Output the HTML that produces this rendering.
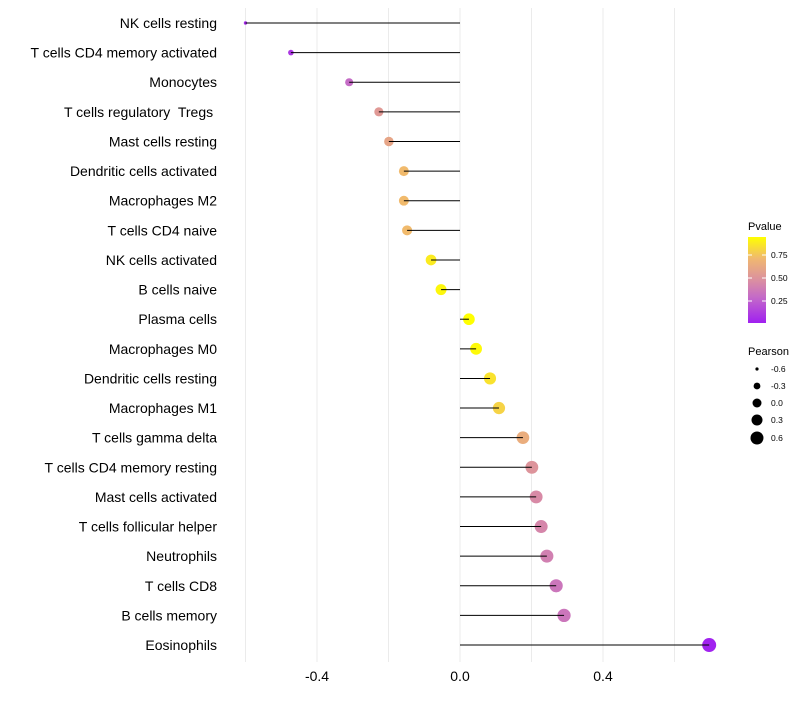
<!DOCTYPE html>
<html><head><meta charset="utf-8"><style>
body{margin:0;background:#fff;font-family:"Liberation Sans",sans-serif}
text{white-space:pre}
</style></head><body>
<svg id="chart" width="800" height="700" xmlns="http://www.w3.org/2000/svg">
<defs><linearGradient id="pg" x1="0" y1="1" x2="0" y2="0">
<stop offset="0" stop-color="#a020f0"/><stop offset="0.3" stop-color="#c46ac8"/><stop offset="0.5" stop-color="#db90a0"/><stop offset="0.75" stop-color="#f0b870"/><stop offset="1" stop-color="#ffff00"/>
</linearGradient></defs>
<g id="grid"></g><g id="marks"></g><g id="labels"></g><g id="legend"></g>
</svg>
<script>
const categories=["NK cells resting","T cells CD4 memory activated","Monocytes","T cells regulatory  Tregs ","Mast cells resting","Dendritic cells activated","Macrophages M2","T cells CD4 naive","NK cells activated","B cells naive","Plasma cells","Macrophages M0","Dendritic cells resting","Macrophages M1","T cells gamma delta","T cells CD4 memory resting","Mast cells activated","T cells follicular helper","Neutrophils","T cells CD8","B cells memory","Eosinophils"];
const pearson=[-0.6,-0.473,-0.31,-0.227,-0.199,-0.157,-0.157,-0.148,-0.081,-0.053,0.025,0.045,0.084,0.109,0.176,0.201,0.213,0.227,0.243,0.269,0.291,0.697];
const pvalue=[0.05,0.1,0.3,0.53,0.6,0.72,0.72,0.72,0.88,0.92,0.97,0.93,0.85,0.8,0.65,0.5,0.45,0.43,0.4,0.35,0.35,0.02];
const xTicks=[-0.4,0,0.4];
const xGrid=[-0.6,-0.4,-0.2,0,0.2,0.4,0.6];
const NS="http://www.w3.org/2000/svg";
const x=v=>460+v*357.5;
const y=i=>23+i*29.62;
const rad=v=>7-5.3*Math.pow(Math.max(0,(0.7-v)/1.3),2.3);
const stops=[[0,[160,32,240]],[0.3,[196,106,200]],[0.5,[219,144,160]],[0.75,[240,184,112]],[1,[255,255,0]]];
function col(p){const t=Math.min(1,Math.max(0,(p-0.01)/(0.946-0.01)));for(let k=1;k<stops.length;k++){if(t<=stops[k][0]){const a=stops[k-1],b=stops[k],f=(t-a[0])/(b[0]-a[0]);return 'rgb('+a[1].map((c,j)=>Math.round(c+(b[1][j]-c)*f)).join(',')+')';}}return 'rgb(255,255,0)';}
function mk(tag,at,parent,txt){const e=document.createElementNS(NS,tag);for(const k in at)e.setAttribute(k,at[k]);if(txt!==undefined)e.textContent=txt;document.getElementById(parent).appendChild(e);return e;}
xGrid.forEach(v=>{const l=mk('line',{x1:x(v),x2:x(v),y1:8,y2:662,stroke:'#ebebeb','stroke-width':1},'grid');

});
xTicks.forEach(v=>{const t=mk('text',{x:x(v),y:681,'font-size':14,'text-anchor':'middle',fill:'#000'},'labels',v.toFixed(1));

});
categories.forEach((c,i)=>{const t=mk('text',{x:217,y:y(i)+5,'font-size':14,'text-anchor':'end',fill:'#000'},'labels',c);


const d=mk('circle',{cx:x(pearson[i]),cy:y(i),r:rad(pearson[i]),fill:col(pvalue[i])},'marks');


const l=mk('line',{x1:x(0),x2:x(pearson[i]),y1:y(i),y2:y(i),stroke:'#000','stroke-width':1},'marks');

});
</script>
<script>
(function(){
const lg=document.getElementById('legend');
const NS="http://www.w3.org/2000/svg";
function mk(tag,at,txt){const e=document.createElementNS(NS,tag);for(const k in at)e.setAttribute(k,at[k]);if(txt!==undefined)e.textContent=txt;lg.appendChild(e);return e;}
let e=mk('text',{x:748,y:230,'font-size':11},'Pvalue');


e=mk('rect',{x:748,y:237,width:18,height:86,fill:'url(#pg)'});


[[255,'0.75'],[278,'0.50'],[301,'0.25']].forEach(a=>{mk('line',{x1:748,x2:752,y1:a[0],y2:a[0],stroke:'#fff'});mk('line',{x1:762,x2:766,y1:a[0],y2:a[0],stroke:'#fff'});
const t=mk('text',{x:771,y:a[0]+3,'font-size':8.5},a[1]);

});
e=mk('text',{x:748,y:355,'font-size':11},'Pearson');


[[369,1.6,'-0.6'],[386,3.4,'-0.3'],[403,4.5,'0.0'],[420,5.5,'0.3'],[438,6.5,'0.6']].forEach(a=>{
const c=mk('circle',{cx:757,cy:a[0],r:a[1],fill:'#000'});


const t=mk('text',{x:771,y:a[0]+3,'font-size':8.5},a[2]);

});
})();
</script>
</body></html>
